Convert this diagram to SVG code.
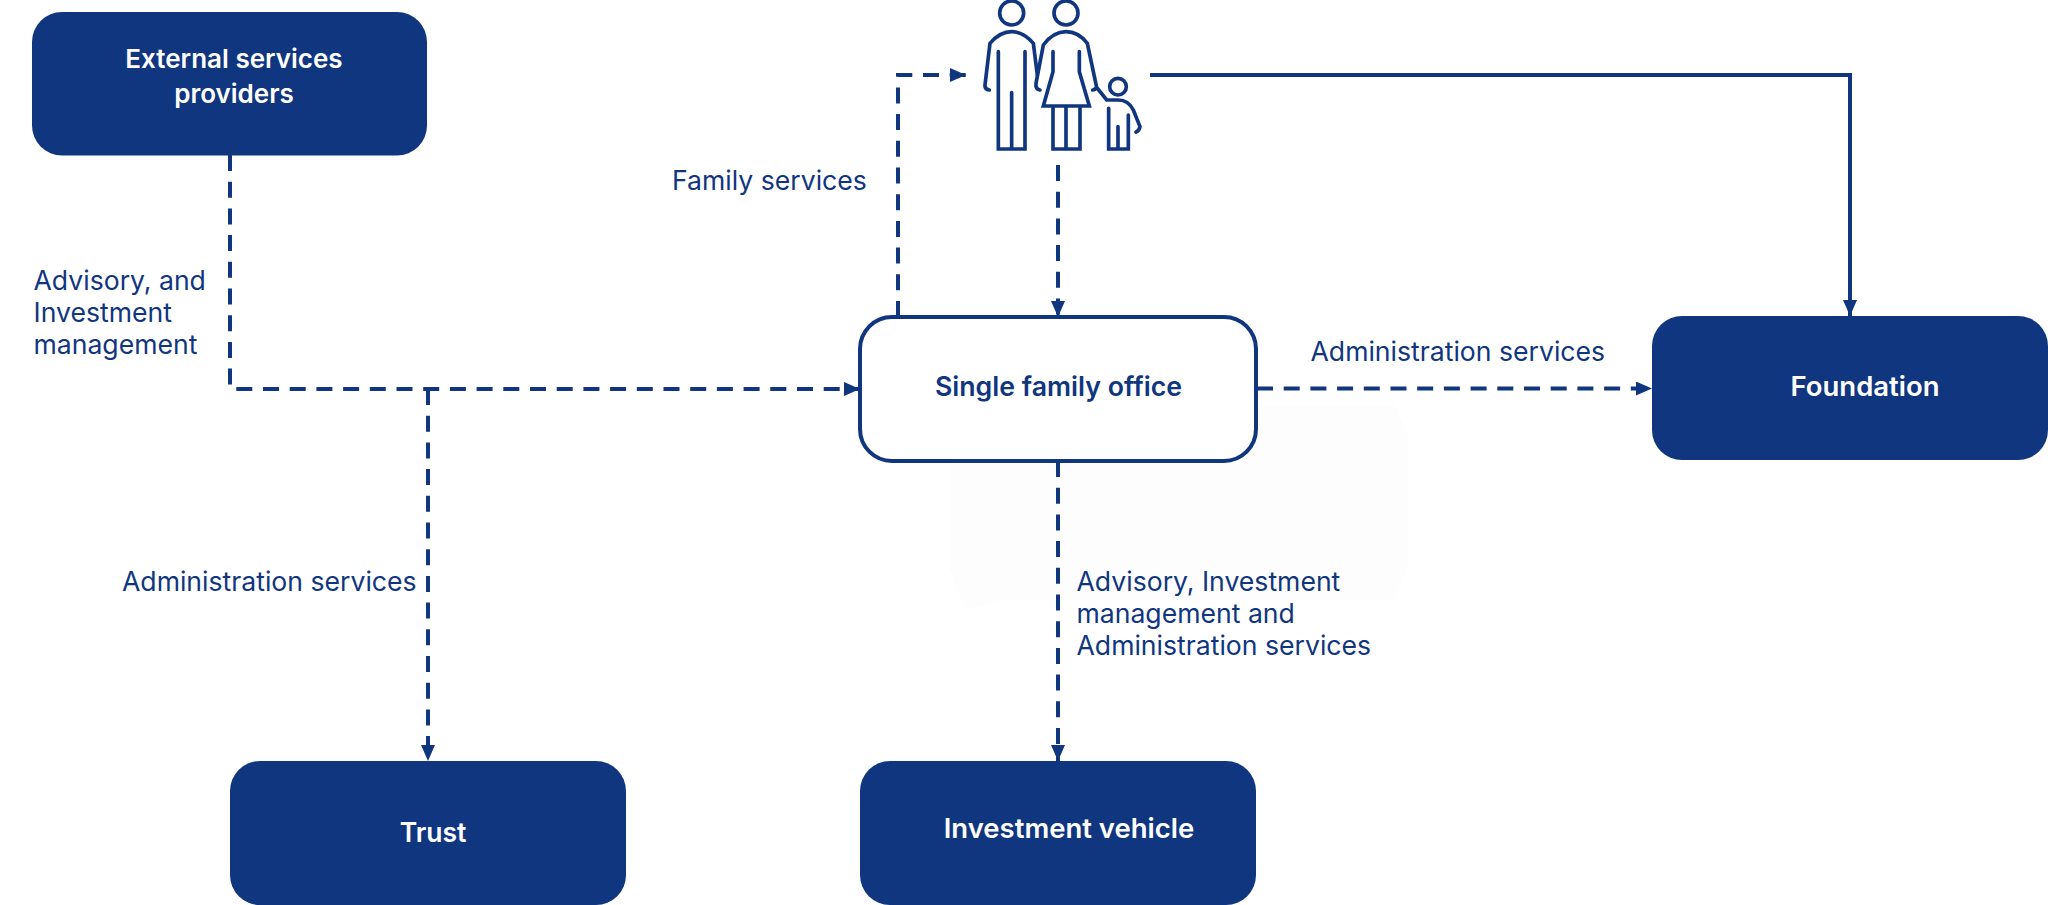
<svg xmlns="http://www.w3.org/2000/svg" width="2048" height="905" viewBox="0 0 2048 905">
<defs>
<style>
.box{fill:#10367f}
.title{font-family:"Inter","Liberation Sans",sans-serif;font-weight:600;font-size:26px;fill:#fff;text-anchor:middle}
.lbl{font-family:"Inter","Liberation Sans",sans-serif;font-size:26.600px;fill:#10367f}
.dash{fill:none;stroke:#10367f;stroke-width:4;stroke-dasharray:16 10.7}
.solid{fill:none;stroke:#10367f;stroke-width:4}
.icon{fill:none;stroke:#10367f;stroke-width:11;stroke-linecap:round}
</style>
<marker id="arrow" viewBox="0 0 16 14" refX="16" refY="7" markerWidth="16" markerHeight="14" markerUnits="userSpaceOnUse" orient="auto"><path d="M0 0L16 7L0 14Z" fill="#10367f"/></marker>
</defs>
<rect width="2048" height="905" fill="#fff"/>
<path d="M965 405H1395L1408 435V565L1395 600H1000L965 610L950 570V435Z" fill="#fdfdfd"/>
<g id="connectors">
<path class="dash" d="M230 155V389H860" marker-end="url(#arrow)"/>
<path class="dash" d="M428 389V761" marker-end="url(#arrow)"/>
<path class="dash" d="M898 317V75H966" marker-end="url(#arrow)"/>
<path class="dash" d="M1058 165V317" marker-end="url(#arrow)"/>
<path class="dash" d="M1257 388.500H1652" marker-end="url(#arrow)"/>
<path class="dash" d="M1058 461V761" marker-end="url(#arrow)"/>
<path class="solid" d="M1150 75H1850V316" marker-end="url(#arrow)"/>
</g>
<g id="external"><rect class="box" x="32" y="12" width="395" height="143.500" rx="30"/><text class="title" x="234" y="68">External services</text><text class="title" x="234" y="103">providers</text></g>
<g id="single"><rect x="860" y="317" width="396" height="144" rx="32" fill="#fff" stroke="#10367f" stroke-width="4"/><text class="title" x="1058.500" y="396" style="fill:#10367f;font-size:26.700px">Single family office</text></g>
<g id="foundation"><rect class="box" x="1652" y="316" width="396" height="144" rx="30"/><text class="title" x="1865" y="396" style="font-size:27.500px">Foundation</text></g>
<g id="trust"><rect class="box" x="230" y="761" width="396" height="144" rx="30"/><text class="title" x="433" y="842" style="font-size:26.500px">Trust</text></g>
<g id="vehicle"><rect class="box" x="860" y="761" width="396" height="144" rx="30"/><text class="title" x="1069" y="838" style="font-size:27.500px">Investment vehicle</text></g>
<g id="family" class="icon" transform="translate(880 0) scale(.33333)">
<circle cx="395" cy="39" r="36"/><circle cx="558" cy="39" r="36"/><circle cx="714" cy="260" r="25"/>
<path d="M328 270Q314 268 315 255L330 130Q360 95 395 95Q430 95 460 130L472 225"/>
<path d="M355 155V447H435V155M395 278V447"/>
<path d="M480 270Q466 268 468 250L490 135Q520 95 558 95Q595 95 622 130L650 262L680 300H715Q745 300 760 330L780 380Q778 392 768 396M650 262Q645 270 638 270"/>
<path d="M519 155V215L490 318H628L598 215V155M519 318V447H600V318M558 318V447"/>
<path d="M686 325V447H745V345M714 380V447"/>
</g>
<g id="labels">
<text class="lbl" x="33.500" y="290">Advisory, and</text><text class="lbl" x="33.500" y="322">Investment</text><text class="lbl" x="33.500" y="354">management</text>
<text class="lbl" x="672" y="190">Family services</text>
<text class="lbl" x="1310.500" y="361">Administration services</text>
<text class="lbl" x="122" y="591">Administration services</text>
<text class="lbl" x="1076.500" y="591">Advisory, Investment</text><text class="lbl" x="1076.500" y="623">management and</text><text class="lbl" x="1076.500" y="655">Administration services</text>
</g>
</svg>
